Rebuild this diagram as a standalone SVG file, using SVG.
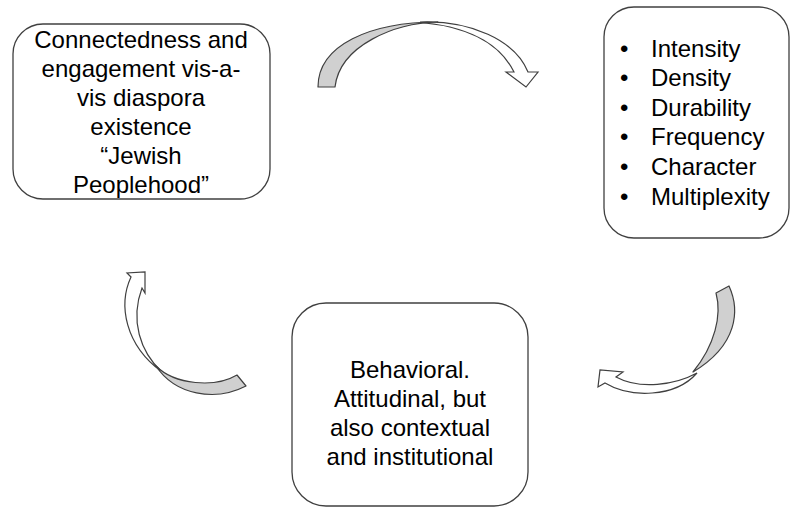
<svg xmlns="http://www.w3.org/2000/svg" width="791" height="508" viewBox="0 0 791 508">
<style>
.box{fill:#fff;stroke:#404040;stroke-width:1.3}
.t{font-family:"Liberation Sans",Arial,sans-serif;font-size:24px;fill:#000}
.c{text-anchor:middle}
.g{fill:#d0d0d0;stroke:#404040;stroke-width:1.2;stroke-linejoin:round}
.w{fill:#fff;stroke:#404040;stroke-width:1.2;stroke-linejoin:miter}
</style>
<rect width="791" height="508" fill="#fff"/>
<g id="connectors">
<g id="arrow-top">
<path class="w" d="M420,22 C470,20 515,40 528,72 L538,72 L526,87 L506,72 L514,72 C502,48 475,28 425,23 Z"/>
<path class="g" d="M318,87 C318,45 370,22 438,22 C395,23 340,45 335,87 Z"/>
</g>
<g id="arrow-right">
<path class="w" d="M697,373 C675,385 640,390 616,377 L623,372 L600,370 L598,387 L605,383 C630,398 675,398 697,373 Z"/>
<path class="g" d="M716,293 L729,286 C740,310 738,345 693,372 C715,345 722,315 716,293 Z"/>
</g>
<g id="arrow-left">
<path class="w" d="M142,288 L145,293 L145,272 L127,273 L131,277 C118,305 125,345 162,372 C140,352 130,320 142,288 Z"/>
<path class="g" d="M156,366 C175,385 215,388 237,375 L246,386 C215,402 175,395 156,366 Z"/>
</g>
</g>
<g id="node-peoplehood">
<rect class="box" x="13" y="24" width="257" height="175" rx="30" ry="30"/>
<text class="t c" x="141" y="48">Connectedness and</text>
<text class="t c" x="141" y="77">engagement vis-a-</text>
<text class="t c" x="141" y="106">vis diaspora</text>
<text class="t c" x="141" y="135">existence</text>
<text class="t c" x="141" y="164">“Jewish</text>
<text class="t c" x="141" y="193">Peoplehood”</text>
</g>
<g id="node-dimensions">
<rect class="box" x="604" y="7" width="185" height="231" rx="30" ry="30"/>
<g class="t">
<text x="620" y="57">•</text><text x="651" y="57">Intensity</text>
<text x="620" y="86">•</text><text x="651" y="86">Density</text>
<text x="620" y="116">•</text><text x="651" y="116">Durability</text>
<text x="620" y="145">•</text><text x="651" y="145">Frequency</text>
<text x="620" y="175">•</text><text x="651" y="175">Character</text>
<text x="620" y="205">•</text><text x="651" y="205">Multiplexity</text>
</g>
</g>
<g id="node-behavioral">
<rect class="box" x="292" y="303" width="236" height="203" rx="34" ry="34"/>
<text class="t c" x="410" y="378">Behavioral.</text>
<text class="t c" x="410" y="407">Attitudinal, but</text>
<text class="t c" x="410" y="436">also contextual</text>
<text class="t c" x="410" y="465">and institutional</text>
</g>
</svg>
